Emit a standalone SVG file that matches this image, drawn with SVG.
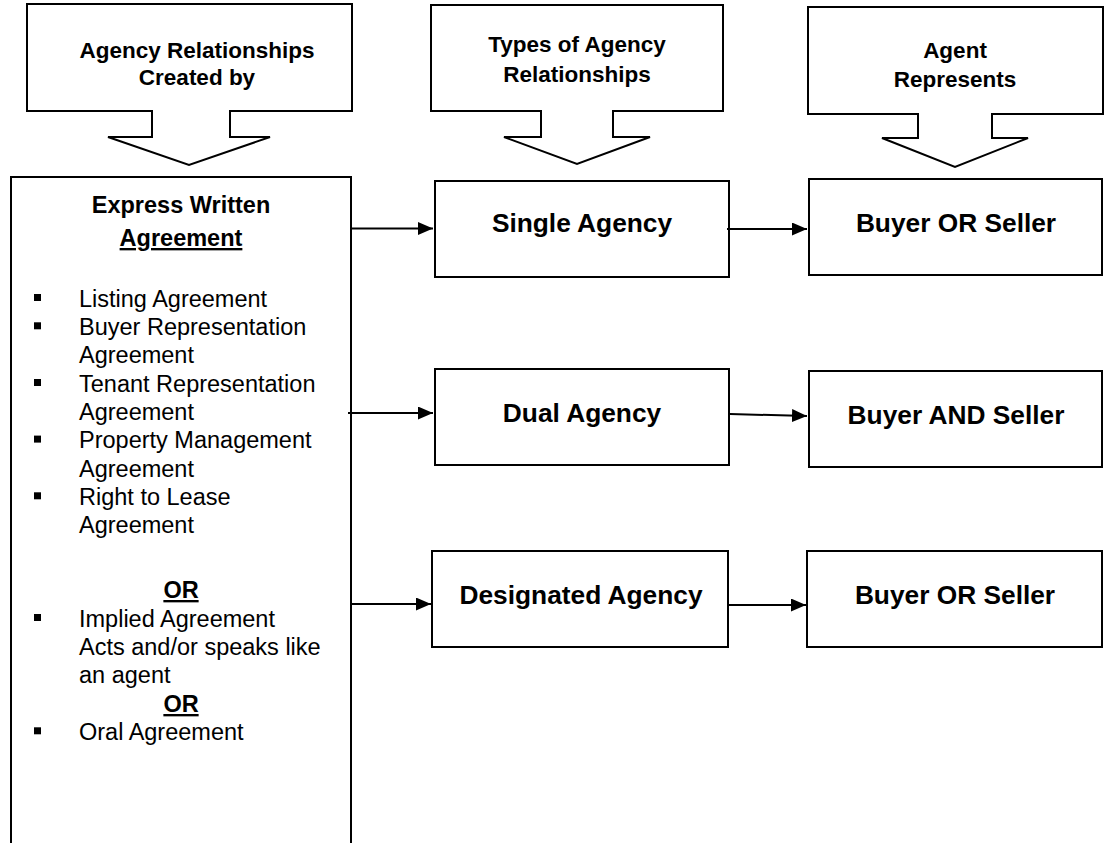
<svg xmlns="http://www.w3.org/2000/svg" width="1105" height="843" viewBox="0 0 1105 843">
<style>
.shape{fill:#fff;stroke:#000;stroke-width:2}
.line{fill:none;stroke:#000;stroke-width:2}
text{font-family:"Liberation Sans",Arial,sans-serif;fill:#000}
.hd{font-size:22.5px;font-weight:bold;text-anchor:middle}
.bh{font-size:23.5px;font-weight:bold;text-anchor:middle}
.li{font-size:23.5px}
.bx{font-size:26.3px;font-weight:bold;text-anchor:middle}
.u{text-decoration:underline}
.bul{fill:#000}
</style>
<defs>
<marker id="ah" markerUnits="userSpaceOnUse" markerWidth="16" markerHeight="14" refX="15" refY="6.5" orient="auto">
<path d="M0,0 L15,6.5 L0,13 Z" fill="#000"/>
</marker>
</defs>
<rect width="1105" height="843" fill="#fff"/>
<g id="callout-created">
<path class="shape" d="M27,4 H352 V111 H230 V137 H270 L189,165 L108,137 H152 V111 H27 Z"/>
<text class="hd" x="197" y="58">Agency Relationships</text>
<text class="hd" x="197" y="85">Created by</text>
</g>
<g id="callout-types">
<path class="shape" d="M431,5 H723 V111 H613 V137 H650 L577,164 L504,137 H541 V111 H431 Z"/>
<text class="hd" x="577" y="52">Types of Agency</text>
<text class="hd" x="577" y="82">Relationships</text>
</g>
<g id="callout-represents">
<path class="shape" d="M808,7 H1103 V114 H992 V138 H1028 L955,167 L882,138 H918 V114 H808 Z"/>
<text class="hd" x="955" y="58">Agent</text>
<text class="hd" x="955" y="87">Represents</text>
</g>
<g id="express-written">
<path class="line" d="M11,850 V177 H351 V850"/>
<text class="bh" x="181" y="213">Express Written</text>
<text class="bh u" x="181" y="246">Agreement</text>
<rect class="bul" x="34" y="294" width="7" height="7"/>
<text class="li" x="79" y="306.7">Listing Agreement</text>
<rect class="bul" x="34" y="322.3" width="7" height="7"/>
<text class="li" x="79" y="335">Buyer Representation</text>
<text class="li" x="79" y="363.3">Agreement</text>
<rect class="bul" x="34" y="379" width="7" height="7"/>
<text class="li" x="79" y="391.7">Tenant Representation</text>
<text class="li" x="79" y="420">Agreement</text>
<rect class="bul" x="34" y="435.6" width="7" height="7"/>
<text class="li" x="79" y="448.3">Property Management</text>
<text class="li" x="79" y="476.7">Agreement</text>
<rect class="bul" x="34" y="492.3" width="7" height="7"/>
<text class="li" x="79" y="505">Right to Lease</text>
<text class="li" x="79" y="533.3">Agreement</text>
<text class="bh u" x="181" y="598">OR</text>
<rect class="bul" x="34" y="614" width="7" height="7"/>
<text class="li" x="79" y="626.7">Implied Agreement</text>
<text class="li" x="79" y="655">Acts and/or speaks like</text>
<text class="li" x="79" y="683.3">an agent</text>
<text class="bh u" x="181" y="712">OR</text>
<rect class="bul" x="34" y="727.3" width="7" height="7"/>
<text class="li" x="79" y="740">Oral Agreement</text>
</g>
<g id="single-agency">
<rect class="shape" x="435" y="181" width="294" height="96"/>
<text class="bx" x="582" y="232">Single Agency</text>
</g>
<g id="buyer-or-seller-1">
<rect class="shape" x="809" y="179" width="293" height="96"/>
<text class="bx" x="956" y="232">Buyer OR Seller</text>
</g>
<g id="dual-agency">
<rect class="shape" x="435" y="369" width="294" height="96"/>
<text class="bx" x="582" y="422">Dual Agency</text>
</g>
<g id="buyer-and-seller">
<rect class="shape" x="809" y="371" width="293" height="96"/>
<text class="bx" x="956" y="424">Buyer AND Seller</text>
</g>
<g id="designated-agency">
<rect class="shape" x="432" y="551" width="296" height="96"/>
<text class="bx" x="581" y="604">Designated Agency</text>
</g>
<g id="buyer-or-seller-2">
<rect class="shape" x="807" y="551" width="295" height="96"/>
<text class="bx" x="955" y="604">Buyer OR Seller</text>
</g>
<g id="connectors">
<path class="line" d="M351,228.5 H433" marker-end="url(#ah)"/>
<path class="line" d="M727,229 H807" marker-end="url(#ah)"/>
<path class="line" d="M348,413 H433" marker-end="url(#ah)"/>
<path class="line" d="M730,414 L807,416" marker-end="url(#ah)"/>
<path class="line" d="M351,604 H431" marker-end="url(#ah)"/>
<path class="line" d="M728,605 H806" marker-end="url(#ah)"/>
</g>
</svg>
